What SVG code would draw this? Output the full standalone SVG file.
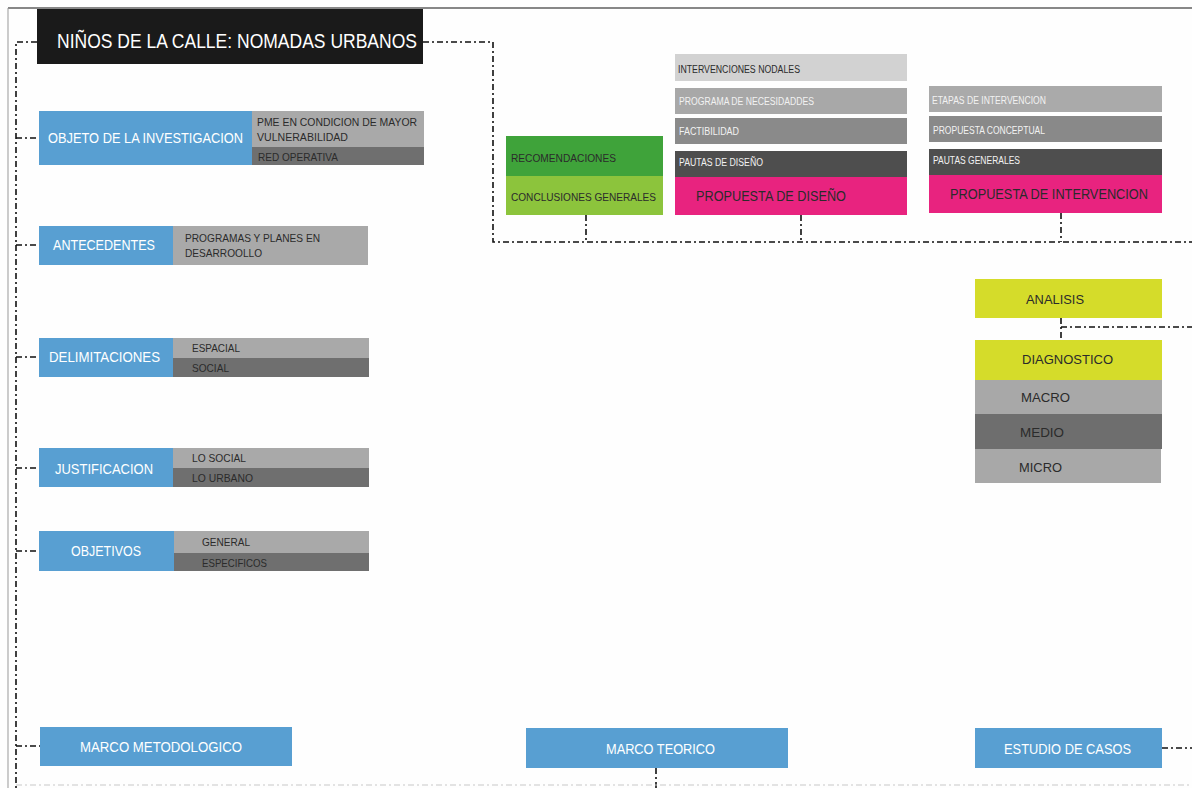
<svg xmlns="http://www.w3.org/2000/svg" width="1192" height="788" viewBox="0 0 1192 788">
<style>
text{font-family:"Liberation Sans","Noto Sans",Arial,sans-serif;}
.conn{fill:none;stroke:#111;stroke-width:1.6;stroke-dasharray:6 3 2 3;}
.faint{fill:none;stroke:#c8c8c8;stroke-width:1;stroke-dasharray:6 3 2 3;}
.blue{fill:#589fd2;}
.lg{fill:#a9a9a9;}
.dg{fill:#6f6f6f;}
.wt{fill:#ffffff;}
.dk{fill:#2b2b2b;}
.lt{fill:#f2f2f2;}
.yel{fill:#d5dc2a;}
.pink{fill:#e8237f;}
</style>
<rect x="0" y="0" width="1192" height="788" fill="#fefefe"/>
<line x1="8" y1="8" x2="1192" y2="8" stroke="#111" stroke-width="1.2"/>
<line x1="8" y1="8" x2="8" y2="788" stroke="#999" stroke-width="1"/>

<g id="connectors">
  <polyline class="conn" points="37,42 16,42 16,788"/>
  <line class="conn" x1="16" y1="138" x2="39" y2="138"/>
  <line class="conn" x1="16" y1="245" x2="39" y2="245"/>
  <line class="conn" x1="16" y1="357" x2="39" y2="357"/>
  <line class="conn" x1="16" y1="468" x2="39" y2="468"/>
  <line class="conn" x1="16" y1="551" x2="39" y2="551"/>
  <line class="conn" x1="16" y1="746" x2="40" y2="746"/>
  <polyline class="conn" points="423,42 493,42 493,242 1192,242"/>
  <line class="conn" x1="586" y1="215" x2="586" y2="242"/>
  <line class="conn" x1="801" y1="215" x2="801" y2="242"/>
  <line class="conn" x1="1061" y1="213" x2="1061" y2="242"/>
  <line class="conn" x1="1061" y1="318" x2="1061" y2="340"/>
  <line class="conn" x1="1061" y1="327" x2="1192" y2="327"/>
  <line class="conn" x1="1162" y1="748" x2="1192" y2="748"/>
  <line class="conn" x1="656" y1="768" x2="656" y2="788"/>
  <line class="faint" x1="16" y1="785" x2="1192" y2="785"/>
</g>

<g id="title">
  <rect x="37" y="9" width="386" height="55" fill="#1a1a1a"/>
  <text x="57" y="48" font-size="20" fill="#ffffff" textLength="360" lengthAdjust="spacingAndGlyphs">NIÑOS DE LA CALLE: NOMADAS URBANOS</text>
</g>

<g id="objeto">
  <rect class="blue" x="39" y="111" width="213" height="54"/>
  <text class="wt" x="48" y="143" font-size="14" textLength="195" lengthAdjust="spacingAndGlyphs">OBJETO DE LA INVESTIGACION</text>
  <rect class="lg" x="252" y="111" width="172" height="36"/>
  <text class="dk" x="257" y="126" font-size="11" textLength="160" lengthAdjust="spacingAndGlyphs">PME EN CONDICION DE MAYOR</text>
  <text class="dk" x="257" y="141" font-size="11" textLength="91" lengthAdjust="spacingAndGlyphs">VULNERABILIDAD</text>
  <rect class="dg" x="252" y="147" width="172" height="18"/>
  <text class="dk" x="258" y="161" font-size="10.5" textLength="80" lengthAdjust="spacingAndGlyphs">RED OPERATIVA</text>
</g>

<g id="antecedentes">
  <rect class="blue" x="39" y="226" width="134" height="39"/>
  <text class="wt" x="53" y="250" font-size="14" textLength="102" lengthAdjust="spacingAndGlyphs">ANTECEDENTES</text>
  <rect class="lg" x="173" y="226" width="195" height="39"/>
  <text class="dk" x="185" y="242" font-size="11" textLength="135" lengthAdjust="spacingAndGlyphs">PROGRAMAS Y PLANES EN</text>
  <text class="dk" x="185" y="257" font-size="11" textLength="77" lengthAdjust="spacingAndGlyphs">DESARROOLLO</text>
</g>

<g id="delimitaciones">
  <rect class="blue" x="39" y="338" width="134" height="39"/>
  <text class="wt" x="49" y="362" font-size="14" textLength="111" lengthAdjust="spacingAndGlyphs">DELIMITACIONES</text>
  <rect class="lg" x="173" y="338" width="196" height="20"/>
  <text class="dk" x="192" y="352" font-size="11" textLength="48" lengthAdjust="spacingAndGlyphs">ESPACIAL</text>
  <rect class="dg" x="173" y="358" width="196" height="19"/>
  <text class="dk" x="192" y="372" font-size="11" textLength="37" lengthAdjust="spacingAndGlyphs">SOCIAL</text>
</g>

<g id="justificacion">
  <rect class="blue" x="39" y="448" width="134" height="39"/>
  <text class="wt" x="55" y="474" font-size="14" textLength="98" lengthAdjust="spacingAndGlyphs">JUSTIFICACION</text>
  <rect class="lg" x="173" y="448" width="196" height="20"/>
  <text class="dk" x="192" y="462" font-size="11" textLength="54" lengthAdjust="spacingAndGlyphs">LO SOCIAL</text>
  <rect class="dg" x="173" y="468" width="196" height="19"/>
  <text class="dk" x="192" y="482" font-size="11" textLength="61" lengthAdjust="spacingAndGlyphs">LO URBANO</text>
</g>

<g id="objetivos">
  <rect class="blue" x="39" y="531" width="135" height="40"/>
  <text class="wt" x="71" y="556" font-size="14" textLength="70" lengthAdjust="spacingAndGlyphs">OBJETIVOS</text>
  <rect class="lg" x="174" y="531" width="195" height="22"/>
  <text class="dk" x="202" y="546" font-size="11" textLength="48" lengthAdjust="spacingAndGlyphs">GENERAL</text>
  <rect class="dg" x="174" y="553" width="195" height="18"/>
  <text class="dk" x="202" y="567" font-size="11" textLength="65" lengthAdjust="spacingAndGlyphs">ESPECIFICOS</text>
</g>

<g id="marco-metodologico">
  <rect class="blue" x="40" y="727" width="252" height="39"/>
  <text class="wt" x="80" y="752" font-size="14" textLength="162" lengthAdjust="spacingAndGlyphs">MARCO METODOLOGICO</text>
</g>

<g id="marco-teorico">
  <rect class="blue" x="526" y="728" width="262" height="40"/>
  <text class="wt" x="606" y="754" font-size="14" textLength="109" lengthAdjust="spacingAndGlyphs">MARCO TEORICO</text>
</g>

<g id="estudio-casos">
  <rect class="blue" x="975" y="728" width="187" height="40"/>
  <text class="wt" x="1004" y="754" font-size="14" textLength="127" lengthAdjust="spacingAndGlyphs">ESTUDIO DE CASOS</text>
</g>

<g id="conclusiones">
  <rect x="506" y="136" width="157" height="40" fill="#3fa33a"/>
  <text class="dk" x="511" y="162" font-size="11" textLength="105" lengthAdjust="spacingAndGlyphs">RECOMENDACIONES</text>
  <rect x="506" y="176" width="157" height="39" fill="#8cc43c"/>
  <text class="dk" x="511" y="201" font-size="11" textLength="145" lengthAdjust="spacingAndGlyphs">CONCLUSIONES GENERALES</text>
</g>

<g id="propuesta-diseno">
  <rect x="675" y="54" width="232" height="27" fill="#d2d2d2"/>
  <text class="dk" x="678" y="73" font-size="10" textLength="122" lengthAdjust="spacingAndGlyphs">INTERVENCIONES NODALES</text>
  <rect x="675" y="88" width="232" height="26" fill="#a8a8a8"/>
  <text class="lt" x="679" y="105" font-size="10" textLength="135" lengthAdjust="spacingAndGlyphs">PROGRAMA DE NECESIDADDES</text>
  <rect x="675" y="118" width="232" height="26" fill="#8a8a8a"/>
  <text class="lt" x="679" y="135" font-size="10" textLength="60" lengthAdjust="spacingAndGlyphs">FACTIBILIDAD</text>
  <rect x="675" y="151" width="232" height="26" fill="#4e4e4e"/>
  <text class="lt" x="679" y="166" font-size="10" textLength="84" lengthAdjust="spacingAndGlyphs">PAUTAS DE DISEÑO</text>
  <rect class="pink" x="675" y="177" width="232" height="38"/>
  <text class="dk" x="696" y="201" font-size="14" textLength="150" lengthAdjust="spacingAndGlyphs">PROPUESTA DE DISEÑO</text>
</g>

<g id="propuesta-intervencion">
  <rect x="929" y="86" width="233" height="26" fill="#aaaaaa"/>
  <text class="lt" x="932" y="104" font-size="10" textLength="114" lengthAdjust="spacingAndGlyphs">ETAPAS DE INTERVENCION</text>
  <rect x="929" y="116" width="233" height="26" fill="#898989"/>
  <text class="lt" x="933" y="134" font-size="10" textLength="112" lengthAdjust="spacingAndGlyphs">PROPUESTA CONCEPTUAL</text>
  <rect x="929" y="149" width="233" height="26" fill="#4e4e4e"/>
  <text class="lt" x="933" y="164" font-size="10" textLength="87" lengthAdjust="spacingAndGlyphs">PAUTAS GENERALES</text>
  <rect class="pink" x="929" y="175" width="233" height="38"/>
  <text class="dk" x="950" y="199" font-size="14" textLength="198" lengthAdjust="spacingAndGlyphs">PROPUESTA DE INTERVENCION</text>
</g>

<g id="analisis">
  <rect class="yel" x="975" y="279" width="187" height="39"/>
  <text class="dk" x="1026" y="304" font-size="13.5" textLength="58" lengthAdjust="spacingAndGlyphs">ANALISIS</text>
</g>

<g id="diagnostico">
  <rect class="yel" x="975" y="340" width="187" height="40"/>
  <text class="dk" x="1022" y="364" font-size="13.5" textLength="91" lengthAdjust="spacingAndGlyphs">DIAGNOSTICO</text>
  <rect x="975" y="380" width="187" height="34" fill="#a8a8a8"/>
  <text class="dk" x="1021" y="402" font-size="13.5" textLength="49" lengthAdjust="spacingAndGlyphs">MACRO</text>
  <rect x="975" y="414" width="187" height="35" fill="#6e6e6e"/>
  <text class="dk" x="1020" y="437" font-size="13.5" textLength="44" lengthAdjust="spacingAndGlyphs">MEDIO</text>
  <rect x="975" y="449" width="186" height="34" fill="#a8a8a8"/>
  <text class="dk" x="1019" y="472" font-size="13.5" textLength="43" lengthAdjust="spacingAndGlyphs">MICRO</text>
</g>
</svg>
